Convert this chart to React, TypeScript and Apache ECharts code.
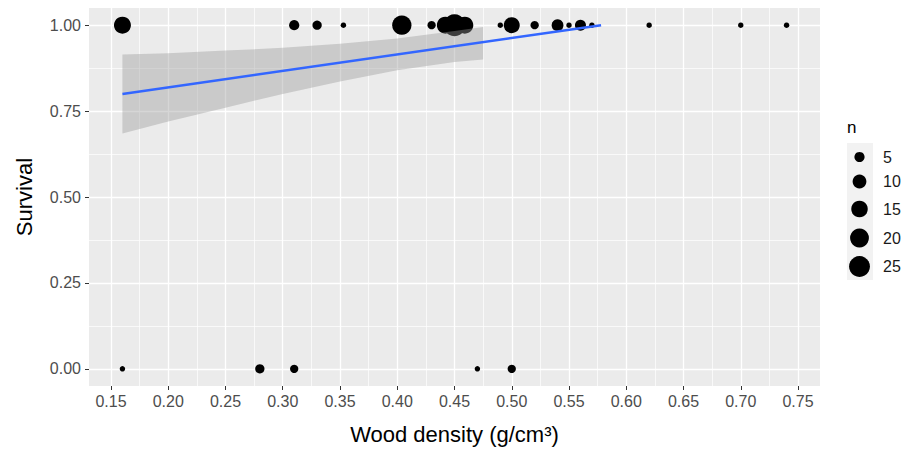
import React, { useEffect, useRef } from "react";
import * as echarts from "echarts";

// ---- data ----
const survivedDensity = [0.16, 0.31, 0.33, 0.353, 0.404, 0.43, 0.442, 0.45, 0.459, 0.49, 0.50, 0.52, 0.54, 0.55, 0.56, 0.57, 0.62, 0.70, 0.74];
const survivedN = [16, 5, 4, 1, 21, 3, 16, 28, 16, 1, 14, 3, 7, 1, 6, 1, 1, 1, 1];
const diedDensity = [0.16, 0.28, 0.31, 0.47, 0.50];
const diedN = [1, 4, 3, 1, 3];

const fitX = [0.16, 0.578];
const fitY = [0.80, 1.0];

const ciX = [0.16, 0.20, 0.25, 0.30, 0.35, 0.40, 0.45, 0.475];
const ciLower = [0.685, 0.720, 0.760, 0.800, 0.836, 0.869, 0.893, 0.900];
const ciUpper = [0.915, 0.918, 0.926, 0.934, 0.946, 0.961, 0.983, 0.995];

const xTicks = [0.15, 0.2, 0.25, 0.3, 0.35, 0.4, 0.45, 0.5, 0.55, 0.6, 0.65, 0.7, 0.75];
const xMinorTicks = [0.175, 0.225, 0.275, 0.325, 0.375, 0.425, 0.475, 0.525, 0.575, 0.625, 0.675, 0.725];
const yTicks = [0, 0.25, 0.5, 0.75, 1];
const yMinorTicks = [0.125, 0.375, 0.625, 0.875];
const legendSizes = [5, 10, 15, 20, 25];

const FONT = "'Liberation Sans', Arial, Helvetica, sans-serif";
const sizeOf = (n: number) => 1.6 + 3.85 * Math.sqrt(n);

export default function App() {
  const ref = useRef<HTMLDivElement>(null);
  useEffect(() => {
    if (!ref.current) return;
    const chart = echarts.init(ref.current, undefined, { renderer: "svg" });

    const points: number[][] = [];
    survivedDensity.forEach((x, i) => points.push([x, 1, survivedN[i]]));
    diedDensity.forEach((x, i) => points.push([x, 0, diedN[i]]));

    const keyY = [157, 181.5, 209, 238, 266.5];
    const legendChildren: any[] = [
      { type: "rect", shape: { x: 847, y: 143, width: 26, height: 137 }, style: { fill: "#F2F2F2" } },
      { type: "text", x: 847, y: 127, style: { text: "n", fontSize: 17, fontFamily: FONT, fill: "#000", verticalAlign: "middle" } },
    ];
    legendSizes.forEach((n, i) => {
      legendChildren.push({ type: "circle", shape: { cx: 859.5, cy: keyY[i], r: sizeOf(n) / 2 }, style: { fill: "#000" } });
      legendChildren.push({
        type: "text", x: 883, y: keyY[i],
        style: { text: String(n), fontSize: 16, fontFamily: FONT, fill: "#1a1a1a", verticalAlign: "middle" },
      });
    });

    const axisLabelStyle = { color: "#4D4D4D", fontSize: 16, fontFamily: FONT };
    const hiddenTick = { show: false, length: 0, lineStyle: { width: 0, opacity: 0 } };
    const noLine = { show: false, onZero: false };

    chart.setOption({
      animation: false,
      textStyle: { fontFamily: FONT },
      grid: { left: 89, top: 8, width: 731, height: 378, show: true, backgroundColor: "#EBEBEB", borderWidth: 0 },
      xAxis: [
        {
          type: "value", min: 0.1308, max: 0.7692, position: "bottom",
          axisLine: noLine,
          axisTick: { show: true, customValues: xTicks, length: 4, lineStyle: { color: "#333333", width: 1 } },
          axisLabel: { customValues: xTicks, formatter: (v: number) => v.toFixed(2), margin: 7, ...axisLabelStyle },
          splitLine: { show: true, lineStyle: { color: "#FFFFFF", width: 1.3 } },
          name: "Wood density (g/cm³)", nameLocation: "middle", nameGap: 37,
          nameTextStyle: { fontSize: 22, color: "#000", fontFamily: FONT },
        },
        {
          type: "value", min: 0.1308, max: 0.7692, position: "bottom",
          axisLine: noLine,
          axisTick: { ...hiddenTick, customValues: xMinorTicks },
          axisLabel: { show: false, customValues: xMinorTicks },
          splitLine: { show: true, lineStyle: { color: "#FFFFFF", width: 0.7 } },
        },
      ],
      yAxis: [
        {
          type: "value", min: -0.05, max: 1.05, position: "left",
          axisLine: noLine,
          axisTick: { show: true, customValues: yTicks, length: 4, lineStyle: { color: "#333333", width: 1 } },
          axisLabel: { customValues: yTicks, formatter: (v: number) => v.toFixed(2), margin: 8, ...axisLabelStyle },
          splitLine: { show: true, lineStyle: { color: "#FFFFFF", width: 1.3 } },
          name: "Survival", nameLocation: "middle", nameGap: 54, nameRotate: 90,
          nameTextStyle: { fontSize: 22, color: "#000", fontFamily: FONT },
        },
        {
          type: "value", min: -0.05, max: 1.05, position: "left",
          axisLine: noLine,
          axisTick: { ...hiddenTick, customValues: yMinorTicks },
          axisLabel: { show: false, customValues: yMinorTicks },
          splitLine: { show: true, lineStyle: { color: "#FFFFFF", width: 0.7 } },
        },
      ],
      series: [
        {
          type: "scatter", data: points, z: 2,
          symbolSize: (v: number[]) => sizeOf(v[2]),
          itemStyle: { color: "#000", opacity: 1 },
        },
        {
          type: "custom", z: 3, silent: true,
          data: [0],
          renderItem: (_params: any, api: any) => {
            const upper = ciX.map((x, i) => api.coord([x, ciUpper[i]]));
            const lower = ciX.map((x, i) => api.coord([x, ciLower[i]])).reverse();
            return {
              type: "polygon",
              shape: { points: upper.concat(lower) },
              style: { fill: "rgba(153,153,153,0.4)", stroke: "none" },
            };
          },
        },
        {
          type: "line", data: fitX.map((x, i) => [x, fitY[i]]), showSymbol: false, z: 4,
          lineStyle: { color: "#3366FF", width: 2.5 },
        },
      ],
      graphic: { elements: legendChildren },
    });
    return () => chart.dispose();
  }, []);
  return <div ref={ref} style={{ position: "fixed", left: 0, top: 0, width: 905, height: 451, background: "#fff" }} />;
}
